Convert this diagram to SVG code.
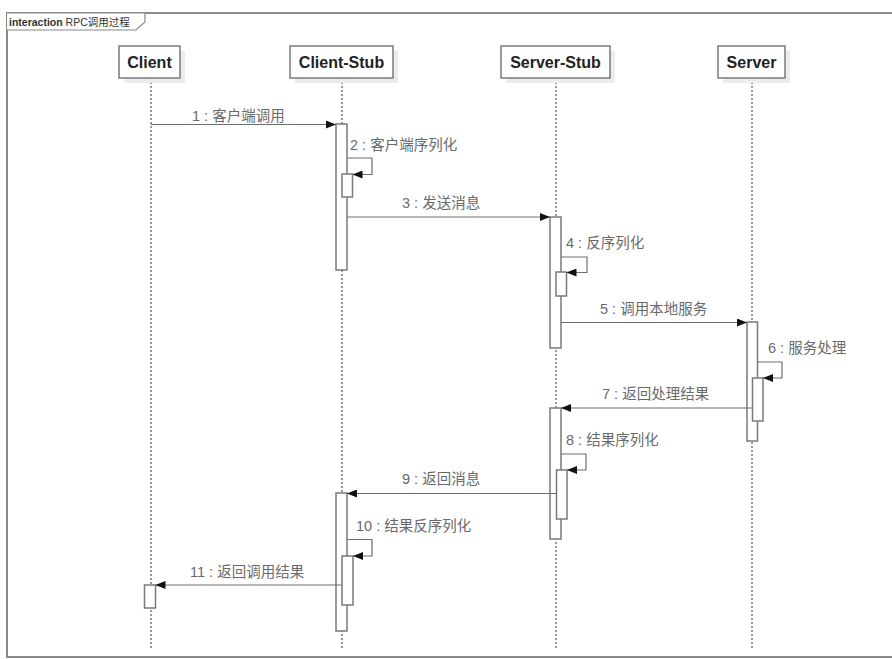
<svg xmlns="http://www.w3.org/2000/svg" width="892" height="659" viewBox="0 0 892 659">
<style>
.frame{fill:none;stroke:#8a8a8a;stroke-width:2}
.hdr{fill:#fff;stroke:#7a7a7a;stroke-width:1.5}
.shadow{fill:#ececec}
.htxt{font-family:"Liberation Sans",Arial,sans-serif;font-weight:bold;font-size:16px;fill:#222;text-anchor:middle}
.life{stroke:#333;stroke-width:1;stroke-dasharray:2,2;fill:none}
.act{fill:#fff;stroke:#7a7a7a;stroke-width:1.5}
.msg{stroke:#6e6e6e;stroke-width:1.2;fill:none}
.lbl{font-family:"Liberation Sans","Noto Sans CJK SC",sans-serif;font-size:14.5px;fill:#6a6a6a}
</style>
<defs>
<marker id="arr" viewBox="0 0 10 8" refX="10" refY="4" markerWidth="10" markerHeight="8" markerUnits="userSpaceOnUse" orient="auto">
<path d="M0,0 L10,4 L0,8 Z" fill="#111"/>
</marker>
</defs>
<rect width="892" height="659" fill="#fff"/>
<g id="frame">
<path class="frame" d="M895,13 H7 V657 H895"/>
<path d="M7,13 H145 V22 L136,30 H7" fill="#fff" stroke="#8a8a8a" stroke-width="1.2"/>
<text x="9" y="26" font-family="Liberation Sans,'Noto Sans CJK SC',sans-serif" font-size="10.5" fill="#333"><tspan font-weight="bold">interaction</tspan> RPC调用过程</text>
</g>
<g id="lifelines">
<line class="life" x1="151" y1="78" x2="151" y2="650"/>
<line class="life" x1="342" y1="78" x2="342" y2="650"/>
<line class="life" x1="556" y1="78" x2="556" y2="650"/>
<line class="life" x1="752" y1="78" x2="752" y2="650"/>
</g>
<g id="client">
<rect class="shadow" x="124" y="51" width="61" height="32"/>
<rect class="hdr" x="119" y="46" width="61" height="32"/>
<text class="htxt" x="149.5" y="68">Client</text>
</g>
<g id="client-stub">
<rect class="shadow" x="295" y="51" width="103" height="32"/>
<rect class="hdr" x="290" y="46" width="103" height="32"/>
<text class="htxt" x="341.5" y="68">Client-Stub</text>
</g>
<g id="server-stub">
<rect class="shadow" x="506" y="51" width="109" height="32"/>
<rect class="hdr" x="501" y="46" width="109" height="32"/>
<text class="htxt" x="555.5" y="68">Server-Stub</text>
</g>
<g id="server">
<rect class="shadow" x="723" y="51" width="67" height="32"/>
<rect class="hdr" x="718" y="46" width="67" height="32"/>
<text class="htxt" x="751.5" y="68">Server</text>
</g>
<g id="activations">
<rect class="act" x="336" y="124" width="11" height="146"/>
<rect class="act" x="342" y="174" width="10.5" height="23"/>
<rect class="act" x="550" y="217" width="11" height="131"/>
<rect class="act" x="556" y="272" width="10.5" height="24"/>
<rect class="act" x="747" y="322" width="10.5" height="119"/>
<rect class="act" x="752.5" y="378" width="10.5" height="43"/>
<rect class="act" x="550" y="408" width="11" height="131"/>
<rect class="act" x="556.5" y="470" width="10.5" height="49"/>
<rect class="act" x="336" y="493" width="11" height="138"/>
<rect class="act" x="342" y="556" width="11" height="49"/>
<rect class="act" x="144.5" y="585" width="11" height="23"/>
</g>
<g id="connectors">
<line class="msg" x1="151" y1="124.5" x2="336" y2="124.5" marker-end="url(#arr)"/>
<polyline class="msg" points="347,158 372,158 372,174.5 352.5,174.5" marker-end="url(#arr)"/>
<line class="msg" x1="347" y1="217" x2="550" y2="217" marker-end="url(#arr)"/>
<polyline class="msg" points="561,257 587,257 587,272.5 566.5,272.5" marker-end="url(#arr)"/>
<line class="msg" x1="561" y1="322.5" x2="747" y2="322.5" marker-end="url(#arr)"/>
<polyline class="msg" points="757.5,362 782,362 782,378 763,378" marker-end="url(#arr)"/>
<line class="msg" x1="752.5" y1="408" x2="561" y2="408" marker-end="url(#arr)"/>
<polyline class="msg" points="561,454 586,454 586,470 567,470" marker-end="url(#arr)"/>
<line class="msg" x1="556.5" y1="493.5" x2="347" y2="493.5" marker-end="url(#arr)"/>
<polyline class="msg" points="347,539.5 372,539.5 372,556 353,556" marker-end="url(#arr)"/>
<line class="msg" x1="342" y1="585" x2="155.5" y2="585" marker-end="url(#arr)"/>
</g>
<g id="labels">
<text class="lbl" x="192" y="121">1 : 客户端调用</text>
<text class="lbl" x="350" y="150">2 : 客户端序列化</text>
<text class="lbl" x="402" y="208">3 : 发送消息</text>
<text class="lbl" x="566" y="248">4 : 反序列化</text>
<text class="lbl" x="600" y="314">5 : 调用本地服务</text>
<text class="lbl" x="768" y="353">6 : 服务处理</text>
<text class="lbl" x="602" y="399">7 : 返回处理结果</text>
<text class="lbl" x="566" y="445">8 : 结果序列化</text>
<text class="lbl" x="402" y="484">9 : 返回消息</text>
<text class="lbl" x="356" y="531">10 : 结果反序列化</text>
<text class="lbl" x="190" y="577">11 : 返回调用结果</text>
</g>
</svg>
